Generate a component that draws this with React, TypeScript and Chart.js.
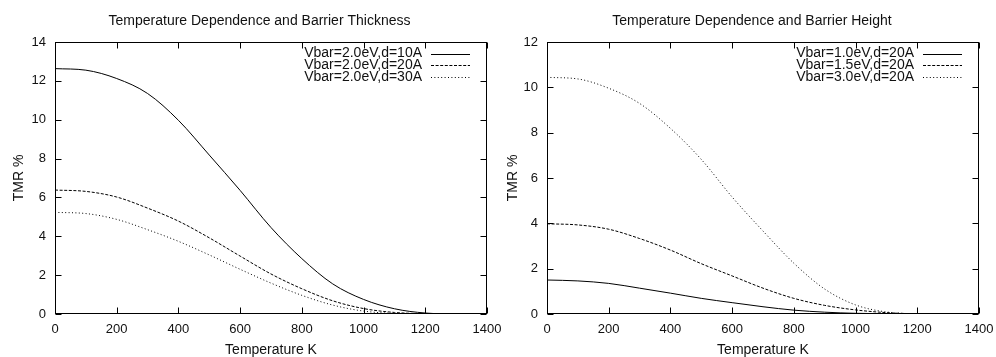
import React, { useEffect, useRef } from "react";
import { Chart, registerables } from "chart.js";

Chart.register(...registerables);

// ---- data ----
const temperatures = [0, 100, 200, 300, 400, 500, 600, 700, 800, 900, 1000, 1100, 1200, 1300, 1330];

// left: barrier thickness
const tmrD10 = [12.63, 12.55, 12.12, 11.35, 9.97, 8.18, 6.36, 4.45, 2.85, 1.55, 0.75, 0.27, 0.05, 0.005, 0.0];
const tmrD20 = [6.38, 6.31, 6.02, 5.45, 4.78, 3.92, 2.98, 2.06, 1.3, 0.68, 0.28, 0.08, 0.015, 0.002, 0.0];
const tmrD30 = [5.23, 5.17, 4.87, 4.34, 3.74, 3.04, 2.3, 1.59, 0.96, 0.46, 0.15, 0.03, 0.005, 0.0, 0.0];

// right: barrier height
const tmrV10 = [1.5, 1.46, 1.35, 1.14, 0.92, 0.69, 0.5, 0.32, 0.17, 0.08, 0.03, 0.01, 0.002, 0.0, 0.0];
const tmrV15 = [3.98, 3.93, 3.74, 3.33, 2.82, 2.22, 1.68, 1.14, 0.69, 0.38, 0.18, 0.06, 0.01, 0.002, 0.0];
const tmrV30 = [10.44, 10.37, 9.96, 9.29, 8.19, 6.82, 5.16, 3.66, 2.24, 1.1, 0.4, 0.09, 0.01, 0.002, 0.0];

const labelsLeft = ["Vbar=2.0eV,d=10A", "Vbar=2.0eV,d=20A", "Vbar=2.0eV,d=30A"];
const labelsRight = ["Vbar=1.0eV,d=20A", "Vbar=1.5eV,d=20A", "Vbar=3.0eV,d=20A"];

const titleLeft = "Temperature Dependence and Barrier Thickness";
const titleRight = "Temperature Dependence and Barrier Height";
const xAxisTitle = "Temperature K";
const yAxisTitle = "TMR %";

const FONT = "'Liberation Sans', Arial, Helvetica, sans-serif";
const INK = "#111";
const DASHES = [[], [3, 1.6], [1, 2.4]];

const gnuplotFrame = {
  id: "gnuplotFrame",
  afterDatasetsDraw(chart: any) {
    const { ctx, chartArea: a, scales } = chart;
    const L = Math.round(a.left) + 0.5;
    const R = Math.round(a.right) - 0.5;
    const T = Math.round(a.top) + 0.5;
    const B = Math.round(a.bottom) - 0.5;
    const tl = 6;
    ctx.save();
    ctx.strokeStyle = "#000";
    ctx.lineWidth = 1;
    ctx.setLineDash([]);
    ctx.strokeRect(L, T, R - L, B - T);
    ctx.beginPath();
    for (const t of scales.x.ticks) {
      const px = Math.round(scales.x.getPixelForValue(t.value)) + 0.5;
      ctx.moveTo(px, B);
      ctx.lineTo(px, B - tl);
      ctx.moveTo(px, T);
      ctx.lineTo(px, T + tl);
    }
    for (const t of scales.y.ticks) {
      const py = Math.round(scales.y.getPixelForValue(t.value)) + 0.5;
      ctx.moveTo(L, py);
      ctx.lineTo(L + tl, py);
      ctx.moveTo(R, py);
      ctx.lineTo(R - tl, py);
    }
    ctx.stroke();

    // gnuplot-style key: text right-aligned, sample line on its right
    ctx.font = `14px ${FONT}`;
    ctx.fillStyle = INK;
    ctx.textAlign = "right";
    ctx.textBaseline = "middle";
    chart.data.datasets.forEach((ds: any, i: number) => {
      const y = a.top + 11.5 + i * 11.7;
      ctx.fillText(ds.label, a.right - 65, y);
      ctx.beginPath();
      ctx.setLineDash(ds.borderDash || []);
      ctx.moveTo(a.right - 56, Math.round(y) + 0.5);
      ctx.lineTo(a.right - 17, Math.round(y) + 0.5);
      ctx.stroke();
    });
    ctx.restore();
  },
};

type Props = {
  title: string;
  labels: string[];
  series: number[][];
  yMax: number;
  left: number;
  width: number;
  yAxisWidth: number;
  rightWidth: number;
  yTitlePad: number;
};

function TmrChart({ title, labels, series, yMax, left, width, yAxisWidth, rightWidth, yTitlePad }: Props) {
  const ref = useRef<HTMLCanvasElement>(null);
  useEffect(() => {
    if (!ref.current) return;
    const chart = new Chart(ref.current, {
      type: "line",
      data: {
        datasets: series.map((vals, i) => ({
          label: labels[i],
          data: temperatures.map((t, j) => ({ x: t, y: vals[j] })),
          borderColor: "#000",
          borderWidth: 1,
          borderDash: DASHES[i],
          pointRadius: 0,
          fill: false,
          cubicInterpolationMode: "monotone" as const,
        })),
      },
      options: {
        animation: false,
        responsive: false,
        devicePixelRatio: 1,
        layout: { padding: 0, autoPadding: false },
        plugins: {
          legend: { display: false },
          tooltip: { enabled: false },
          title: {
            display: true,
            text: title,
            color: INK,
            font: { family: FONT, size: 14, weight: "normal", lineHeight: 1.2 },
            padding: { top: 12.6, bottom: 12.6 },
          },
        },
        scales: {
          x: {
            type: "linear",
            min: 0,
            max: 1400,
            ticks: {
              stepSize: 200,
              color: INK,
              font: { family: FONT, size: 13 },
              padding: 8,
              maxRotation: 0,
              autoSkip: false,
              callback: (v: any) => String(v),
            },
            grid: { display: false, drawTicks: false },
            border: { display: false },
            title: {
              display: true,
              text: xAxisTitle,
              color: INK,
              font: { family: FONT, size: 14, lineHeight: 1 },
              padding: 0,
            },
            afterFit: (s: any) => {
              s.height = 357 - 314;
            },
          },
          y: {
            type: "linear",
            position: "left",
            min: 0,
            max: yMax,
            ticks: {
              stepSize: 2,
              color: INK,
              font: { family: FONT, size: 13 },
              padding: 9,
              callback: (v: any) => String(v),
            },
            grid: { display: false, drawTicks: false },
            border: { display: false },
            title: {
              display: true,
              text: yAxisTitle,
              color: INK,
              font: { family: FONT, size: 14, lineHeight: 1.2 },
              padding: { top: yTitlePad, bottom: 0 },
            },
            afterFit: (s: any) => {
              s.width = yAxisWidth;
            },
          },
          y2: {
            type: "linear",
            position: "right",
            display: true,
            ticks: { display: false },
            grid: { display: false, drawTicks: false },
            border: { display: false },
            afterFit: (s: any) => {
              s.width = rightWidth;
            },
          },
        },
      } as any,
      plugins: [gnuplotFrame],
    });
    return () => chart.destroy();
  }, []);
  return (
    <canvas
      ref={ref}
      width={width}
      height={357}
      style={{ position: "absolute", left, top: 0, width, height: 357 }}
    />
  );
}

export default function App() {
  return (
    <div
      style={{
        position: "absolute",
        left: 0,
        top: 0,
        width: 996,
        height: 357,
        overflow: "hidden",
        background: "#fff",
      }}
    >
      <TmrChart
        title={titleLeft}
        labels={labelsLeft}
        series={[tmrD10, tmrD20, tmrD30]}
        yMax={14}
        left={0}
        width={519}
        yAxisWidth={55}
        rightWidth={32}
        yTitlePad={10.3}
      />
      <TmrChart
        title={titleRight}
        labels={labelsRight}
        series={[tmrV10, tmrV15, tmrV30]}
        yMax={12}
        left={496}
        width={512}
        yAxisWidth={51}
        rightWidth={29}
        yTitlePad={9.1}
      />
    </div>
  );
}
